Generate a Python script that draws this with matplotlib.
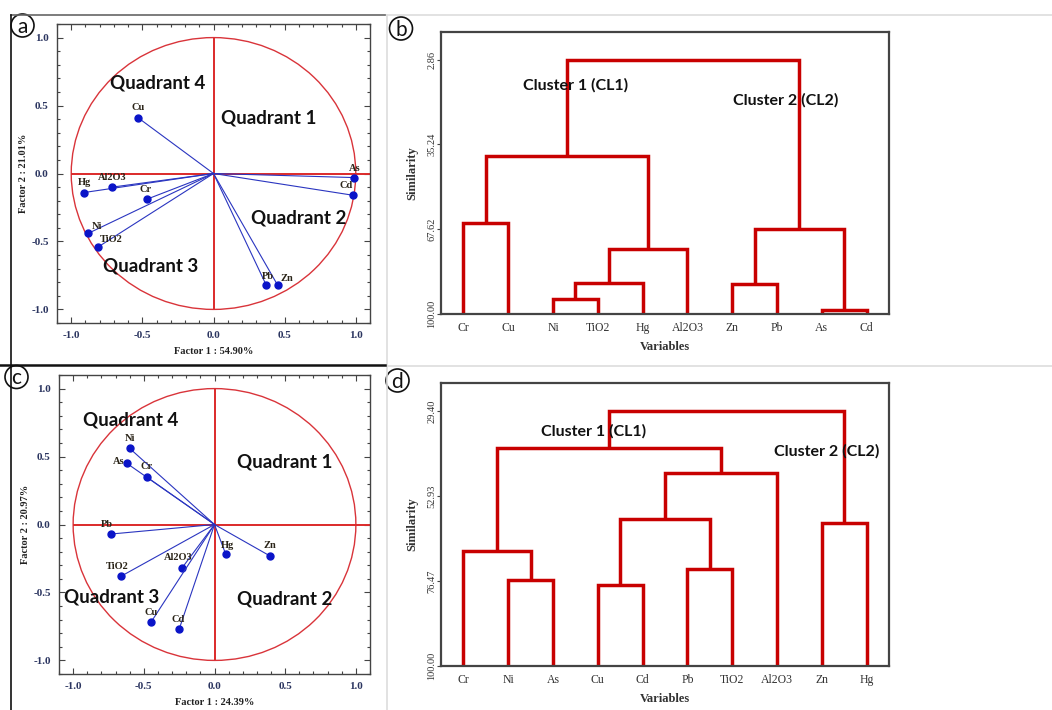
import numpy as np
import matplotlib
matplotlib.use("Agg")
import matplotlib.pyplot as plt
from matplotlib.patches import Ellipse
from matplotlib.lines import Line2D
from matplotlib.ticker import MultipleLocator

# ---- PCA loadings (panel a) ----
vars_a = ['Cu', 'Hg', 'Al2O3', 'Cr', 'Ni', 'TiO2', 'Pb', 'Zn', 'As', 'Cd']
f1_a = [-0.53, -0.91, -0.71, -0.47, -0.88, -0.81, 0.37, 0.45, 0.99, 0.98]
f2_a = [0.41, -0.14, -0.10, -0.19, -0.44, -0.54, -0.82, -0.82, -0.03, -0.16]
xlab_a = 'Factor 1 : 54.90%'
ylab_a = 'Factor 2 : 21.01%'

# ---- PCA loadings (panel c) ----
vars_c = ['Ni', 'As', 'Cr', 'Pb', 'TiO2', 'Al2O3', 'Cu', 'Cd', 'Hg', 'Zn']
f1_c = [-0.60, -0.62, -0.48, -0.73, -0.66, -0.23, -0.45, -0.25, 0.08, 0.39]
f2_c = [0.56, 0.45, 0.35, -0.07, -0.38, -0.32, -0.72, -0.77, -0.22, -0.23]
xlab_c = 'Factor 1 : 24.39%'
ylab_c = 'Factor 2 : 20.97%'

# ---- dendrogram (panel b): leaves in plot order, merges (left, right, similarity) ----
leaves_b = ['Cr', 'Cu', 'Ni', 'TiO2', 'Hg', 'Al2O3', 'Zn', 'Pb', 'As', 'Cd']
merges_b = [(0, 1, 65.4), (2, 3, 94.4), (11, 4, 88.0), (12, 5, 75.0),
            (10, 13, 39.8), (6, 7, 88.4), (8, 9, 98.6), (15, 16, 67.5),
            (14, 17, 2.86)]
yticks_b = [2.86, 35.24, 67.62, 100.00]

# ---- dendrogram (panel d) ----
leaves_d = ['Cr', 'Ni', 'As', 'Cu', 'Cd', 'Pb', 'TiO2', 'Al2O3', 'Zn', 'Hg']
merges_d = [(1, 2, 76.2), (0, 10, 68.0), (3, 4, 77.6), (5, 6, 73.0),
            (12, 13, 59.3), (14, 7, 46.4), (11, 15, 39.6), (8, 9, 60.4),
            (16, 17, 29.40)]
yticks_d = [29.40, 52.93, 76.47, 100.00]

SERIF = ['Liberation Serif', 'DejaVu Serif']
SANS = ['Lato', 'DejaVu Sans']
W, H = 1052, 710

fig = plt.figure(figsize=(W / 100, H / 100), dpi=100)


def px_axes(x0, y0, x1, y1):
    return fig.add_axes([x0 / W, 1 - y1 / H, (x1 - x0) / W, (y1 - y0) / H])


def pca_panel(ax, names, f1, f2, xlab, ylab, offsets, quads):
    ax.set_xlim(-1.1, 1.1)
    ax.set_ylim(-1.1, 1.1)
    ax.add_patch(Ellipse((0, 0), 2, 2, fill=False, ec='#d9343a', lw=1.0))
    ax.hlines(0, -1, 1.1, color='#dc2a2a', lw=1.4)
    ax.vlines(0, -1, 1, color='#dc2a2a', lw=1.4)
    for n, x, y in zip(names, f1, f2):
        ax.plot([0, x], [0, y], color='#2a35c0', lw=0.8)
        ax.plot(x, y, 'o', color='#0a14c8', ms=5)
        dx, dy = offsets.get(n, (0, 10))
        ax.annotate(n, (x, y), xytext=(dx, dy), textcoords='offset pixels',
                    ha='center', va='center', fontsize=7.5, fontweight='bold',
                    family=SERIF, color='#2a2418')
    for txt, (qx, qy) in quads.items():
        ax.text(qx, qy, txt, ha='center', va='center', fontsize=13.5,
                fontweight='bold', family=SANS, color='#111111')
    ax.xaxis.set_major_locator(MultipleLocator(0.5))
    ax.yaxis.set_major_locator(MultipleLocator(0.5))
    ax.xaxis.set_minor_locator(MultipleLocator(0.1))
    ax.yaxis.set_minor_locator(MultipleLocator(0.1))
    ax.xaxis.set_major_formatter(lambda v, p: f'{v:.1f}')
    ax.yaxis.set_major_formatter(lambda v, p: f'{v:.1f}')
    ax.tick_params(which='both', direction='in', top=True, right=True,
                   color='#444444', width=0.8)
    ax.tick_params(which='major', length=4, pad=6, labelsize=8,
                   labelcolor='#2b3560')
    ax.tick_params(which='minor', length=2)
    for lab in ax.get_xticklabels() + ax.get_yticklabels():
        lab.set_family(SERIF)
        lab.set_fontweight('bold')
    for s in ax.spines.values():
        s.set_color('#444444')
        s.set_linewidth(1.0)
    ax.set_xlabel(xlab, fontsize=7.5, fontweight='bold', family=SERIF,
                  color='#222222', labelpad=5)
    ax.set_ylabel(ylab, fontsize=7.5, fontweight='bold', family=SERIF,
                  color='#222222', labelpad=2)


def dendro_panel(ax, leaves, merges, yticks, top):
    n = len(leaves)
    xpos = {i: i + 1.0 for i in range(n)}
    hgt = {i: 100.0 for i in range(n)}
    for k, (a, b, h) in enumerate(merges):
        ax.plot([xpos[a], xpos[a], xpos[b], xpos[b]],
                [hgt[a], h, h, hgt[b]], color='#c80000', lw=2.5,
                solid_joinstyle='miter', solid_capstyle='butt')
        xpos[n + k] = (xpos[a] + xpos[b]) / 2
        hgt[n + k] = h
    ax.set_xlim(0.5, n + 0.5)
    ax.set_ylim(100, top)
    ax.set_xticks(range(1, n + 1))
    ax.set_xticklabels(leaves, family=SERIF, fontsize=8.5, color='#333333')
    ax.set_yticks(yticks)
    ax.set_yticklabels([f'{v:.2f}' for v in yticks], family=SERIF,
                       fontsize=7.5, color='#333333', rotation=90, va='center')
    ax.tick_params(axis='x', length=0, pad=6)
    ax.tick_params(axis='y', length=3, pad=0.5, color='#444444')
    for s in ax.spines.values():
        s.set_color('#444444')
        s.set_linewidth(1.6)
    ax.set_xlabel('Variables', fontsize=9, fontweight='bold', family=SERIF,
                  color='#333333', labelpad=5)
    ax.set_ylabel('Similarity', fontsize=9, fontweight='bold', family=SERIF,
                  color='#333333', labelpad=6)


# panel a
ax_a = px_axes(57, 24, 370, 323)
off_a = {'Ni': (9, 7), 'TiO2': (13, 7), 'Pb': (2, 8), 'Zn': (9, 6),
         'As': (0, 9), 'Cd': (-7, 10), 'Cr': (-1, 10)}
quad_a = {'Quadrant 4': (-0.39, 0.665), 'Quadrant 1': (0.39, 0.41),
          'Quadrant 2': (0.60, -0.33), 'Quadrant 3': (-0.44, -0.68)}
pca_panel(ax_a, vars_a, f1_a, f2_a, xlab_a, ylab_a, off_a, quad_a)

# panel c
ax_c = px_axes(59, 375, 370, 674)
off_c = {'As': (-8, 2), 'Pb': (-4, 10), 'TiO2': (-4, 10), 'Al2O3': (-4, 10),
         'Cd': (-1, 10), 'Hg': (2, 9)}
quad_c = {'Quadrant 4': (-0.59, 0.77), 'Quadrant 1': (0.50, 0.46),
          'Quadrant 3': (-0.73, -0.53), 'Quadrant 2': (0.50, -0.55)}
pca_panel(ax_c, vars_c, f1_c, f2_c, xlab_c, ylab_c, off_c, quad_c)

# panel b
ax_b = px_axes(441, 32, 889, 314)
dendro_panel(ax_b, leaves_b, merges_b, yticks_b, -7.7)
ax_b.text(3.5, 12.5, 'Cluster 1 (CL1)', ha='center', va='center', fontsize=11.5,
          fontweight='bold', family=SANS, color='#111111')
ax_b.text(8.2, 18.3, 'Cluster 2 (CL2)', ha='center', va='center', fontsize=11.5,
          fontweight='bold', family=SANS, color='#111111')

# panel d
ax_d = px_axes(441, 383, 889, 666)
dendro_panel(ax_d, leaves_d, merges_d, yticks_d, 21.5)
ax_d.text(3.9, 34.9, 'Cluster 1 (CL1)', ha='center', va='center', fontsize=11.5,
          fontweight='bold', family=SANS, color='#111111')
ax_d.text(9.1, 40.4, 'Cluster 2 (CL2)', ha='center', va='center', fontsize=11.5,
          fontweight='bold', family=SANS, color='#111111')


# panel frames
def fig_line(xs, ys, color, lw):
    fig.add_artist(Line2D([x / W for x in xs], [1 - y / H for y in ys],
                          color=color, lw=lw, transform=fig.transFigure))


fig_line([386.5, 386.5], [15, 710], '#dddddd', 1.2)
fig_line([386, 1052], [15, 15], '#dddddd', 1.2)
fig_line([387, 1052], [365.5, 365.5], '#dddddd', 1.2)
fig_line([11, 385], [15, 15], '#666666', 1.2)
fig_line([11, 11], [15, 710], '#111111', 1.2)
fig_line([0, 385], [365, 365], '#111111', 1.8)

# circled panel letters
for letter, cx, cy in [('a', 22.5, 25.5), ('b', 401, 28.5),
                       ('c', 16.5, 377), ('d', 397.5, 380.5)]:
    fig.add_artist(Ellipse((cx / W, 1 - cy / H), 23 / W, 23 / H, fill=True,
                           fc='white', ec='#111111', lw=1.2,
                           transform=fig.transFigure))
    fig.text(cx / W, 1 - (cy + 1.5) / H, letter, ha='center', va='center',
             fontsize=15, family=SANS, color='#111111')

fig.savefig('out.png', dpi=100)
